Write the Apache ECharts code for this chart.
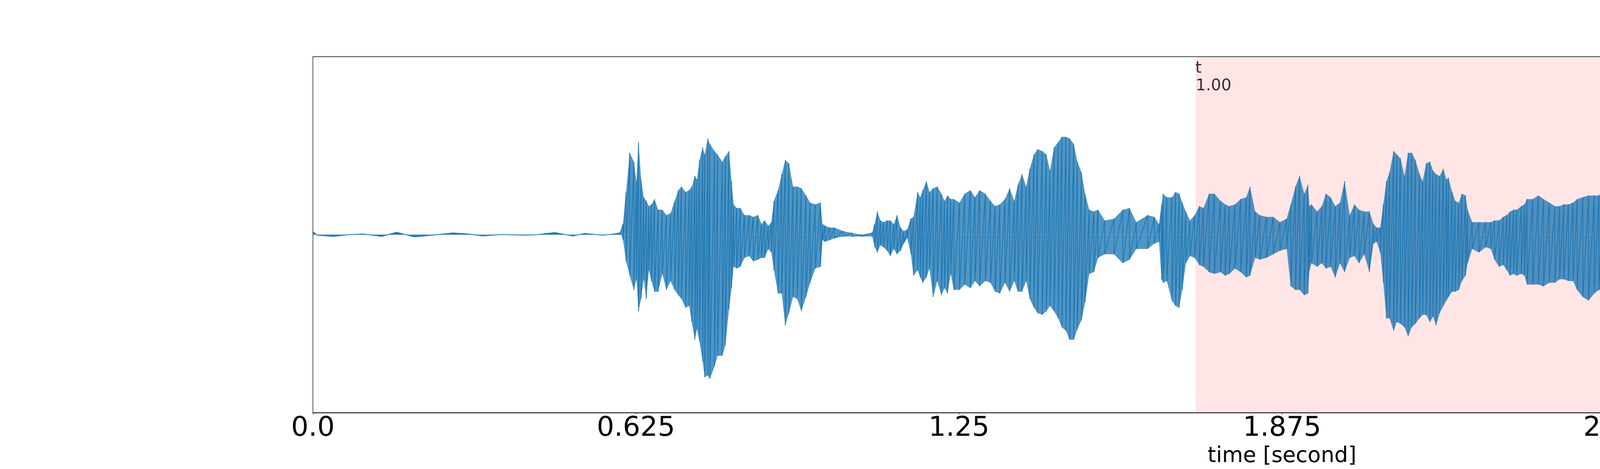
<!DOCTYPE html>
<html>
<head>
<meta charset="utf-8">
<script src="https://cdn.jsdelivr.net/npm/echarts@6.0.0/dist/echarts.min.js"></script>
<style>
  html, body { margin: 0; padding: 0; background: #fff; }
  #main { width: 6400px; height: 1200px; }
</style>
</head>
<body>
<div id="main"></div>
<script>
// waveform envelope: time [s], upper and lower extent per sample
const waveT = [
  0, 0.008, 0.040, 0.069, 0.098, 0.133, 0.162, 0.196, 0.231, 0.271, 0.300, 0.329, 0.364, 0.410, 0.433, 0.468, 0.503, 0.526, 0.560, 0.583, 0.595,
  0.600, 0.606, 0.613, 0.621, 0.626, 0.630, 0.635, 0.640, 0.645, 0.650, 0.655, 0.661, 0.668, 0.676, 0.684, 0.692, 0.700, 0.707, 0.713, 0.721,
  0.728, 0.733, 0.739, 0.743, 0.748, 0.754, 0.758, 0.764, 0.768, 0.777, 0.783, 0.792, 0.798, 0.805, 0.810, 0.814, 0.820, 0.827, 0.835, 0.844,
  0.852, 0.861, 0.868, 0.874, 0.881, 0.887, 0.892, 0.900, 0.907, 0.914, 0.921, 0.929, 0.937, 0.945, 0.954, 0.962, 0.972, 0.982, 0.986, 0.991,
  1.000, 1.009, 1.026, 1.043, 1.061, 1.082, 1.087, 1.092, 1.098, 1.104, 1.111, 1.117, 1.124, 1.130, 1.137, 1.143, 1.150, 1.157, 1.162, 1.170,
  1.175, 1.180, 1.187, 1.193, 1.200, 1.208, 1.216, 1.222, 1.228, 1.234, 1.240,
  1.251, 1.261, 1.272, 1.281, 1.290, 1.301, 1.311, 1.320, 1.329, 1.339, 1.348, 1.357, 1.364, 1.372, 1.380, 1.387, 1.395, 1.402, 1.411, 1.419,
  1.426, 1.434, 1.442, 1.449, 1.457, 1.464, 1.472, 1.479, 1.487, 1.494, 1.502, 1.511, 1.519, 1.532, 1.550, 1.567, 1.580, 1.593, 1.615, 1.628,
  1.637, 1.642, 1.645, 1.652, 1.662, 1.669, 1.676, 1.682, 1.689, 1.697, 1.706, 1.715, 1.723, 1.734, 1.744, 1.756, 1.765, 1.773, 1.784, 1.795,
  1.806, 1.813, 1.823, 1.832, 1.845, 1.858, 1.871, 1.884, 1.892, 1.901, 1.909, 1.918, 1.925,
  1.928, 1.932, 1.943, 1.952, 1.960, 1.969, 1.978, 1.987, 1.996, 2.006, 2.015, 2.024, 2.034, 2.044, 2.052, 2.058, 2.065, 2.071, 2.077, 2.083,
  2.091, 2.097, 2.104, 2.112, 2.119, 2.126, 2.133, 2.141, 2.147, 2.154, 2.161, 2.167, 2.173, 2.180, 2.187, 2.193, 2.197, 2.204, 2.210, 2.217,
  2.223, 2.230, 2.234, 2.243, 2.256, 2.269, 2.279, 2.286, 2.295, 2.303, 2.310, 2.316, 2.323, 2.329, 2.338, 2.344, 2.349, 2.360, 2.371, 2.381,
  2.392, 2.403, 2.412, 2.420, 2.429, 2.438, 2.446, 2.457, 2.468, 2.479, 2.488, 2.496, 2.503, 2.509, 2.520, 2.533, 2.546, 2.559, 2.572, 2.585,
  2.596, 2.603,
  2.611, 2.622, 2.632, 2.640, 2.651, 2.659, 2.667, 2.675, 2.685, 2.696, 2.706, 2.717, 2.730, 2.741, 2.749, 2.759, 2.775, 2.789, 2.797, 2.807,
  2.818, 2.828, 2.839, 2.847, 2.855, 2.863, 2.869, 2.877, 2.884, 2.892, 2.899, 2.906, 2.914, 2.922, 2.930, 2.939, 2.948, 2.957, 2.966, 2.977,
  2.987, 2.998, 3.008, 3.019, 3.030, 3.044, 3.057, 3.069, 3.083, 3.101, 3.120, 3.136,
  3.152, 3.165, 3.178, 3.215, 3.244, 3.284, 3.316, 3.342, 3.358, 3.374, 3.397
];
const waveHi = [
  0.018, -0.003, -0.010, 0.000, 0.004, -0.010, 0.014, -0.012, -0.003, 0.010, 0.004, -0.007, 0.001, -0.003, 0.000, 0.012, -0.007, 0.007, -0.003, 0.004, 0.011,
  0.06, 0.24, 0.46, 0.41, 0.30, 0.52, 0.31, 0.21, 0.19, 0.16, 0.17, 0.20, 0.14, 0.14, 0.11, 0.12, 0.19, 0.25, 0.27, 0.24,
  0.25, 0.27, 0.33, 0.31, 0.42, 0.49, 0.45, 0.54, 0.51, 0.47, 0.45, 0.41, 0.44, 0.47, 0.30, 0.17, 0.15, 0.15, 0.11, 0.11,
  0.10, 0.11, 0.06, 0.08, 0.05, 0.07, 0.19, 0.25, 0.34, 0.42, 0.40, 0.27, 0.27, 0.26, 0.22, 0.18, 0.17, 0.18, 0.06, 0.05,
  0.04, 0.04, 0.02, 0.01, 0.00, 0.01, 0.06, 0.13, 0.08, 0.07, 0.08, 0.08, 0.06, 0.11, 0.04, 0.02, 0.03, 0.09, 0.10, 0.24,
  0.21, 0.25, 0.30, 0.24, 0.26, 0.27, 0.23, 0.19, 0.22, 0.20, 0.20,
  0.18, 0.23, 0.25, 0.21, 0.25, 0.23, 0.19, 0.16, 0.17, 0.20, 0.26, 0.19, 0.28, 0.34, 0.27, 0.37, 0.45, 0.48, 0.47, 0.45,
  0.36, 0.49, 0.52, 0.55, 0.55, 0.54, 0.51, 0.41, 0.35, 0.23, 0.14, 0.13, 0.14, 0.08, 0.09, 0.14, 0.15, 0.07, 0.11, 0.10,
  0.06, 0.17, 0.23, 0.21, 0.21, 0.24, 0.23, 0.18, 0.13, 0.08, 0.11, 0.16, 0.15, 0.23, 0.23, 0.19, 0.17, 0.16, 0.17, 0.20,
  0.21, 0.27, 0.13, 0.11, 0.10, 0.10, 0.07, 0.09, 0.17, 0.27, 0.33, 0.23, 0.28,
  0.16, 0.17, 0.13, 0.16, 0.23, 0.21, 0.16, 0.18, 0.30, 0.11, 0.17, 0.14, 0.13, 0.13, 0.06, 0.04, 0.04, 0.17, 0.30, 0.35,
  0.47, 0.45, 0.43, 0.33, 0.46, 0.46, 0.42, 0.34, 0.30, 0.40, 0.41, 0.36, 0.34, 0.33, 0.37, 0.31, 0.32, 0.24, 0.19, 0.18,
  0.23, 0.22, 0.14, 0.07, 0.07, 0.07, 0.07, 0.08, 0.08, 0.10, 0.11, 0.13, 0.14, 0.14, 0.16, 0.17, 0.20, 0.20, 0.22, 0.20,
  0.18, 0.16, 0.16, 0.17, 0.17, 0.18, 0.20, 0.21, 0.22, 0.22, 0.22, 0.25, 0.17, 0.08, 0.08, 0.07, 0.04, 0.02, 0.02, 0.03,
  0.02, 0.12,
  0.16, 0.17, 0.18, 0.21, 0.17, 0.08, 0.06, 0.09, 0.11, 0.17, 0.14, 0.20, 0.14, 0.11, 0.04, 0.01, 0.01, 0.02, 0.13, 0.14,
  0.14, 0.14, 0.11, 0.21, 0.32, 0.41, 0.41, 0.39, 0.30, 0.35, 0.35, 0.27, 0.22, 0.23, 0.16, 0.10, 0.08, 0.10, 0.10, 0.08,
  0.09, 0.08, 0.06, 0.10, 0.08, 0.05, 0.06, 0.03, 0.02, 0.01, 0.04, 0.01,
  -0.020, -0.015, 0.006, 0.009, 0.015, -0.004, -0.013, 0.006, 0.012, 0.006, 0.003
];
const waveLo = [
  0.018, -0.003, -0.010, 0.000, 0.004, -0.010, 0.014, -0.012, -0.003, 0.010, 0.004, -0.007, 0.001, -0.003, 0.000, 0.012, -0.007, 0.007, -0.003, 0.004, 0.011,
  -0.03, -0.15, -0.23, -0.31, -0.25, -0.43, -0.36, -0.25, -0.36, -0.20, -0.26, -0.32, -0.32, -0.22, -0.31, -0.26, -0.31, -0.34, -0.36, -0.41,
  -0.40, -0.49, -0.59, -0.53, -0.60, -0.71, -0.80, -0.79, -0.81, -0.74, -0.68, -0.68, -0.62, -0.42, -0.30, -0.18, -0.19, -0.18, -0.13, -0.12,
  -0.15, -0.14, -0.13, -0.13, -0.08, -0.10, -0.20, -0.33, -0.33, -0.51, -0.44, -0.35, -0.36, -0.43, -0.35, -0.27, -0.19, -0.18, -0.03, -0.04,
  -0.03, -0.02, -0.01, -0.01, -0.01, -0.01, -0.07, -0.10, -0.06, -0.07, -0.09, -0.12, -0.08, -0.11, -0.09, -0.05, -0.02, -0.11, -0.23, -0.20,
  -0.24, -0.27, -0.24, -0.19, -0.35, -0.26, -0.34, -0.30, -0.33, -0.22, -0.31,
  -0.31, -0.28, -0.30, -0.26, -0.29, -0.26, -0.27, -0.32, -0.33, -0.27, -0.32, -0.26, -0.32, -0.32, -0.26, -0.36, -0.41, -0.44, -0.45, -0.43,
  -0.40, -0.43, -0.47, -0.52, -0.54, -0.59, -0.59, -0.53, -0.48, -0.38, -0.22, -0.21, -0.13, -0.11, -0.11, -0.16, -0.14, -0.08, -0.08, -0.05,
  -0.04, -0.25, -0.27, -0.26, -0.37, -0.40, -0.41, -0.31, -0.16, -0.12, -0.13, -0.17, -0.18, -0.21, -0.22, -0.21, -0.23, -0.22, -0.19, -0.21,
  -0.24, -0.23, -0.13, -0.14, -0.13, -0.11, -0.09, -0.08, -0.29, -0.31, -0.31, -0.34, -0.33,
  -0.20, -0.16, -0.18, -0.16, -0.19, -0.18, -0.24, -0.16, -0.21, -0.13, -0.12, -0.16, -0.11, -0.21, -0.05, -0.04, -0.10, -0.27, -0.47, -0.47,
  -0.54, -0.49, -0.50, -0.52, -0.57, -0.52, -0.50, -0.47, -0.45, -0.45, -0.49, -0.46, -0.51, -0.44, -0.40, -0.37, -0.35, -0.32, -0.32, -0.31,
  -0.26, -0.23, -0.16, -0.08, -0.10, -0.07, -0.08, -0.14, -0.18, -0.17, -0.20, -0.23, -0.22, -0.23, -0.22, -0.23, -0.28, -0.28, -0.28, -0.29,
  -0.27, -0.27, -0.25, -0.25, -0.26, -0.26, -0.31, -0.35, -0.37, -0.33, -0.31, -0.31, -0.26, -0.17, -0.08, -0.07, -0.04, -0.03, -0.02, -0.02,
  -0.02, -0.14,
  -0.24, -0.25, -0.22, -0.24, -0.19, -0.10, -0.07, -0.08, -0.11, -0.16, -0.19, -0.14, -0.12, -0.11, -0.03, -0.02, -0.02, -0.02, -0.16, -0.18,
  -0.18, -0.18, -0.13, -0.32, -0.37, -0.41, -0.41, -0.39, -0.36, -0.37, -0.33, -0.32, -0.27, -0.30, -0.24, -0.24, -0.20, -0.20, -0.15, -0.12,
  -0.12, -0.13, -0.09, -0.10, -0.08, -0.07, -0.06, -0.04, -0.02, -0.01, -0.02, -0.01,
  -0.020, -0.015, 0.006, 0.009, 0.015, -0.004, -0.013, 0.006, 0.012, 0.006, 0.003
];

// highlighted word spans and their character labels
const wordStart = [1.708, 2.834];
const wordEnd = [2.755, 3.136];
const wordScore = ['1.00', '1.00'];
const charText = ['t', 'h', 'i', 's', 'm', 'o', 'm', 'e', 'n', 't'];
const charTime = [1.708, 2.614, 2.656, 2.735, 2.833, 2.895, 2.974, 3.032, 3.074, 3.117];

const tickLabels = ['0.0', '0.625', '1.25', '1.875', '2.5', '3.125', '3.75'];

const chart = echarts.init(document.getElementById('main'));

// zigzag between the upper and lower extent of each sample
const wavePoints = [];
waveT.forEach((t, i) => {
  wavePoints.push([t, waveHi[i]]);
  wavePoints.push([t, waveLo[i]]);
});

const bandStyle = {
  showSymbol: false,
  symbol: 'none',
  silent: true,
  lineStyle: { width: 0, opacity: 0 },
  areaStyle: { color: '#1f77b4', opacity: 0.78, origin: 0 },
  z: 2,
};

const option = {
  animation: false,
  backgroundColor: '#fff',
  textStyle: { fontFamily: 'DejaVu Sans' },
  grid: {
    left: 801,
    right: 637,
    top: 145,
    bottom: 133,
    show: true,
    borderColor: '#000',
    borderWidth: 1.3,
  },
  xAxis: {
    type: 'value',
    min: 0,
    max: 3.75,
    interval: 0.625,
    name: 'time [second]',
    nameLocation: 'middle',
    nameGap: 84,
    nameTextStyle: { fontSize: 55, color: '#000', fontFamily: 'DejaVu Sans' },
    axisLine: { show: true, onZero: false, lineStyle: { color: '#000', width: 1.3 } },
    axisTick: { show: true, length: 5, lineStyle: { color: '#000', width: 1 } },
    axisLabel: {
      fontSize: 70,
      color: '#000',
      margin: 6,
      fontFamily: 'DejaVu Sans',
      formatter: (v) => tickLabels[Math.round(v / 0.625)],
    },
    splitLine: { show: false },
  },
  yAxis: {
    type: 'value',
    min: -1,
    max: 1,
    show: false,
    axisLine: { onZero: false },
  },
  series: [
    Object.assign({ name: 'upper', type: 'line', data: waveT.map((t, i) => [t, waveHi[i]]) }, bandStyle),
    Object.assign({ name: 'lower', type: 'line', data: waveT.map((t, i) => [t, waveLo[i]]) }, bandStyle),
    {
      name: 'wave',
      type: 'line',
      data: wavePoints,
      showSymbol: false,
      symbol: 'none',
      sampling: null,
      lineStyle: { color: '#1f77b4', width: 2 },
      z: 3,
      markArea: {
        silent: true,
        itemStyle: { color: 'rgba(255, 0, 0, 0.1)' },
        data: wordStart.map((s, i) => [{ xAxis: s }, { xAxis: wordEnd[i] }]),
      },
    },
    {
      name: 'chars',
      type: 'scatter',
      symbolSize: 0.1,
      itemStyle: { color: 'rgba(0,0,0,0)' },
      data: charTime.map((t) => [t, 1]),
      z: 5,
      label: {
        show: true,
        position: [-1, 10],
        align: 'left',
        verticalAlign: 'top',
        fontSize: 41,
        color: '#000',
        fontFamily: 'DejaVu Sans',
        formatter: (p) => charText[p.dataIndex],
      },
    },
    {
      name: 'scores',
      type: 'scatter',
      symbolSize: 0.1,
      itemStyle: { color: 'rgba(0,0,0,0)' },
      data: wordStart.map((t) => [t, 1]),
      z: 5,
      label: {
        show: true,
        position: [0, 55],
        align: 'left',
        verticalAlign: 'top',
        fontSize: 41,
        color: '#000',
        fontFamily: 'DejaVu Sans',
        formatter: (p) => wordScore[p.dataIndex],
      },
    },
  ],
};

chart.setOption(option);
</script>
</body>
</html>
